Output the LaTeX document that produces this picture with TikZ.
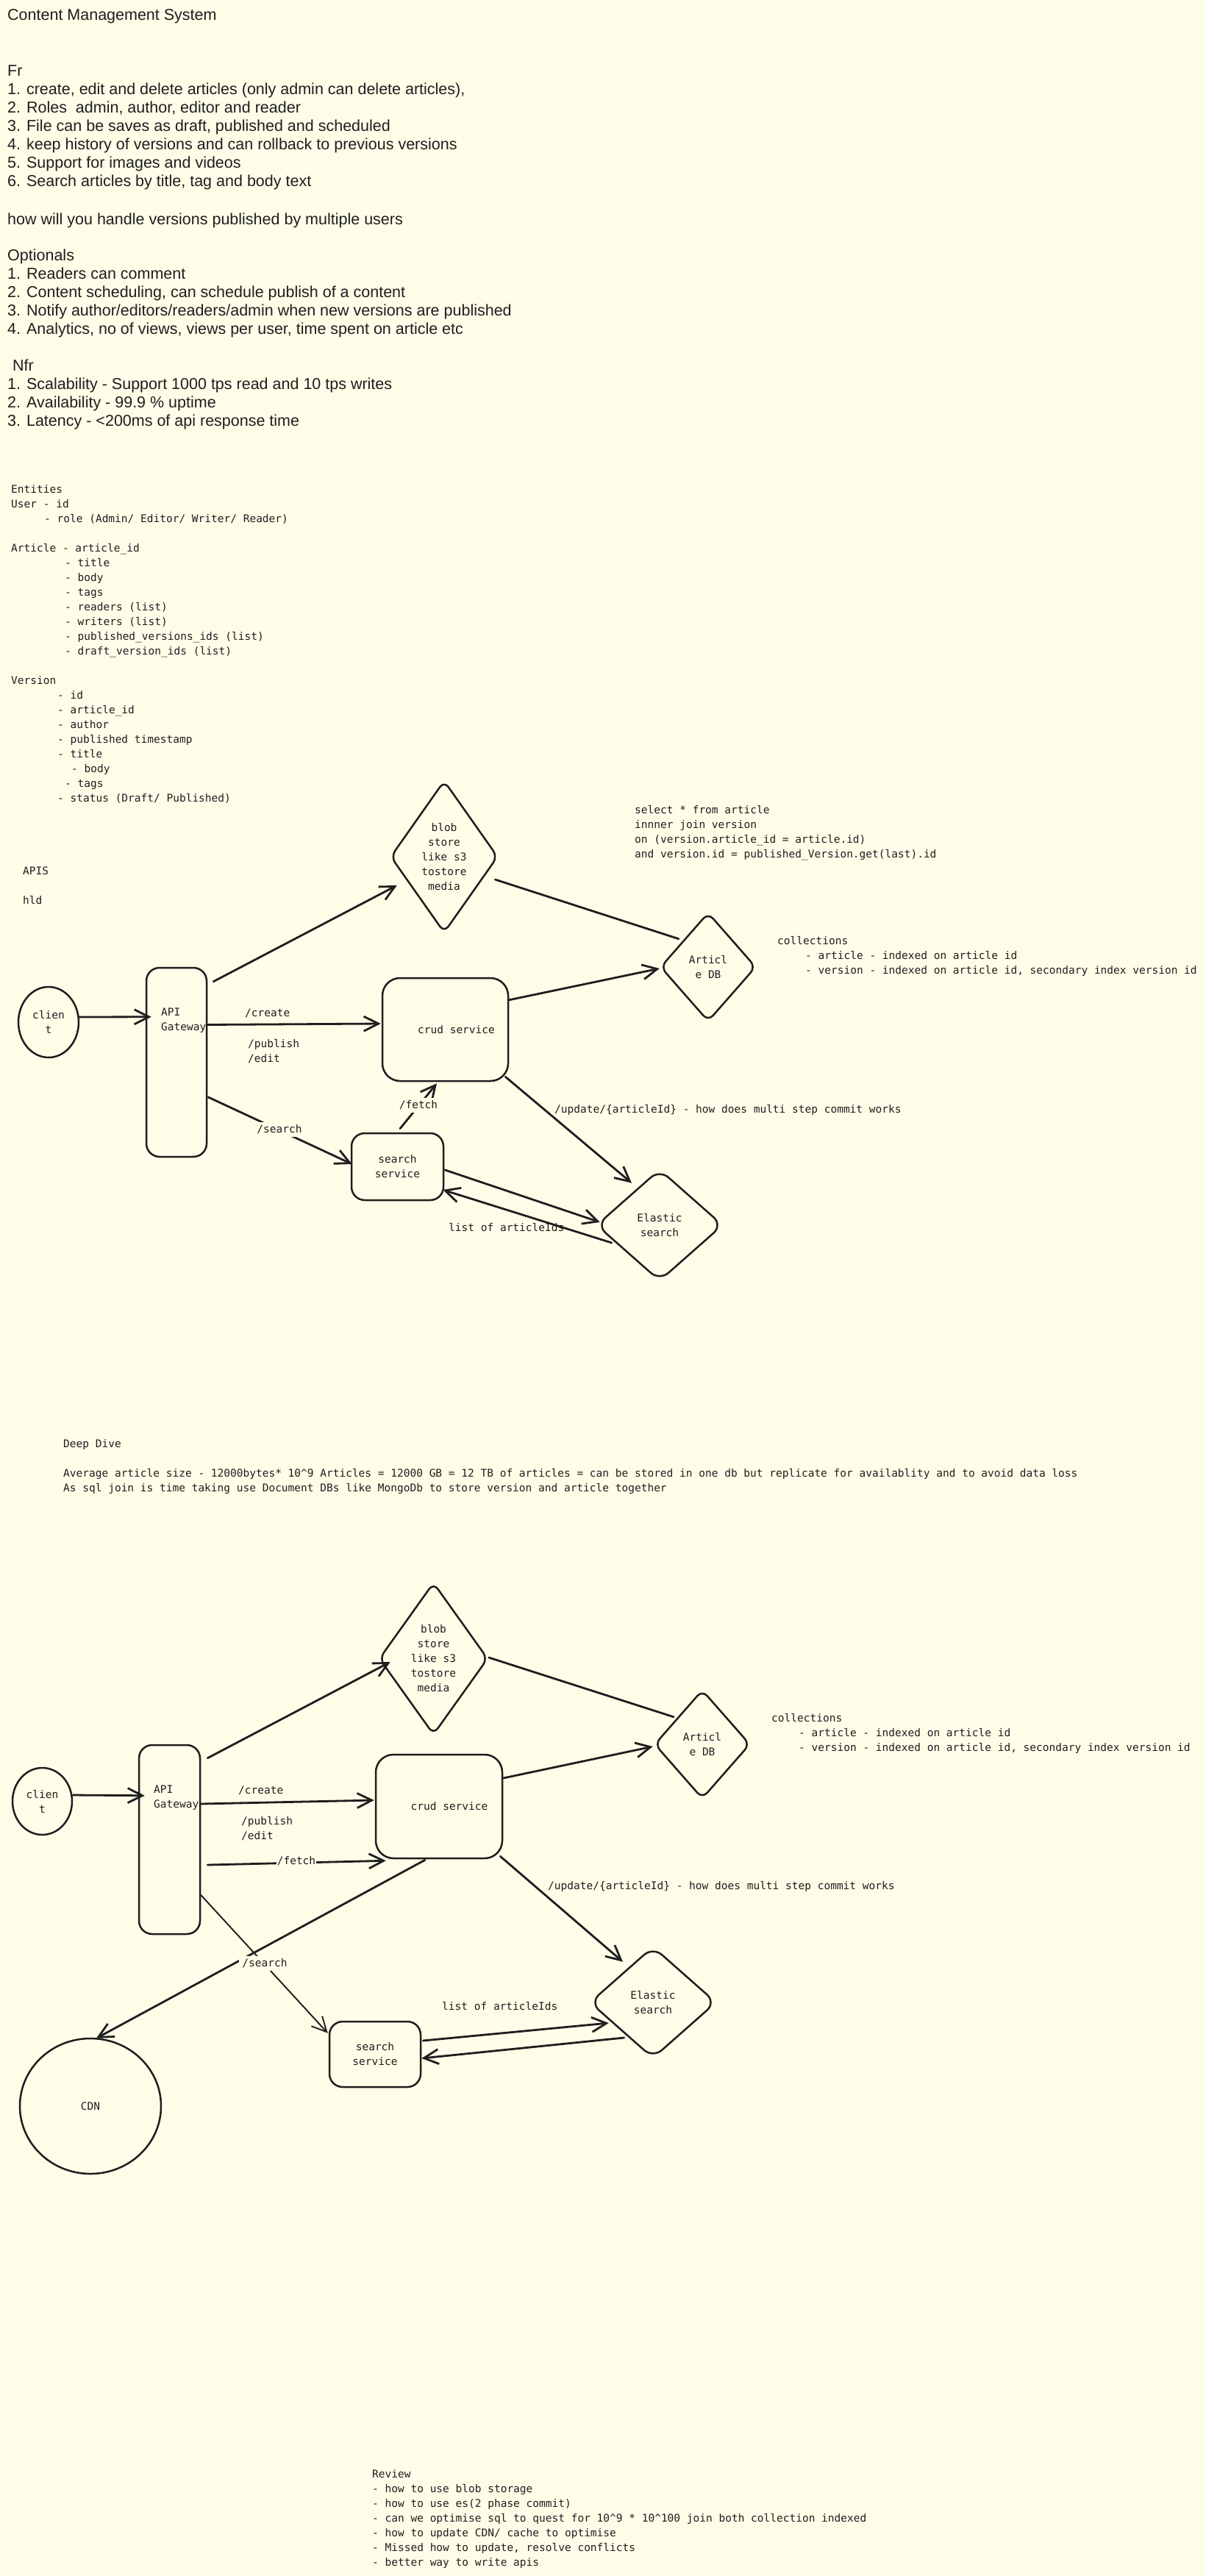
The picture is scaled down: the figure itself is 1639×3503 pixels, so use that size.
\documentclass[tikz,border=0pt]{standalone}
\usepackage{fontspec}
\setmainfont{Liberation Sans}
\newfontfamily\monof{DejaVu Sans Mono}
\usetikzlibrary{shapes.geometric,arrows.meta}
\definecolor{bg}{RGB}{255,253,232}
\definecolor{ink}{RGB}{30,30,30}
\newcommand{\txtl}[1]{\begin{tabular}[t]{@{}l@{}}#1\end{tabular}}
\tikzset{
  handtxt/.style={font=\fontsize{21.5}{25}\selectfont, text=ink, anchor=base west, inner sep=0pt},
  monotxt/.style={font=\monof\fontsize{14.5}{20}\selectfont, text=ink, anchor=base west, inner sep=0pt},
  monolbl/.style={font=\monof\fontsize{14.5}{20}\selectfont, text=ink, inner sep=0pt},
  shp/.style={draw=ink, line width=2.5pt, font=\monof\fontsize{14.5}{20}\selectfont, text=ink, align=center, inner sep=0pt},
  rbox/.style={shp, rectangle, rounded corners=18pt},
  dia/.style={shp, diamond, rounded corners=10pt},
  ell/.style={shp, ellipse},
  ln/.style={draw=ink, line width=2.8pt, line cap=round, line join=round},
  arr/.style={ln, -{Straight Barb[length=20pt,width=20pt]}},
  lblfill/.style={monolbl, fill=bg, inner sep=4pt}
}
\begin{document}
\begin{tikzpicture}[x=1pt,y=-1pt]
\useasboundingbox (0,0) rectangle (1639,3503);
\fill[bg] (0,0) rectangle (1639,3503);

% ---------- handwritten notes ----------
\node[handtxt] (title) at (10,28) {Content Management System};
\node[handtxt] (fr) at (10,104) {\txtl{Fr\\
1. create, edit and delete articles (only admin can delete articles),\\
2. Roles~ admin, author, editor and reader\\
3. File can be saves as draft, published and scheduled\\
4. keep history of versions and can rollback to previous versions\\
5. Support for images and videos\\
6. Search articles by title, tag and body text}};
\node[handtxt] (how) at (10,305) {how will you handle versions published by multiple users};
\node[handtxt] (opt) at (10,354) {\txtl{Optionals\\
1. Readers can comment\\
2. Content scheduling, can schedule publish of a content\\
3. Notify author/editors/readers/admin when new versions are published\\
4. Analytics, no of views, views per user, time spent on article etc}};
\node[handtxt] (nfr) at (10,504) {\txtl{\hspace*{7pt}Nfr\\
1. Scalability - Support 1000 tps read and 10 tps writes\\
2. Availability - 99.9 \% uptime\\
3. Latency - <200ms of api response time}};

% ---------- entities ----------
\node[monotxt] (ent) at (15,670) {\txtl{Entities\\
User - id\\
\hspace*{45pt}- role (Admin/ Editor/ Writer/ Reader)\\
\\
Article - article\_id\\
\hspace*{73pt}- title\\
\hspace*{73pt}- body\\
\hspace*{73pt}- tags\\
\hspace*{73pt}- readers (list)\\
\hspace*{73pt}- writers (list)\\
\hspace*{73pt}- published\_versions\_ids (list)\\
\hspace*{73pt}- draft\_version\_ids (list)\\
\\
Version\\
\hspace*{63pt}- id\\
\hspace*{63pt}- article\_id\\
\hspace*{63pt}- author\\
\hspace*{63pt}- published timestamp\\
\hspace*{63pt}- title\\
\hspace*{82pt}- body\\
\hspace*{73pt}- tags\\
\hspace*{63pt}- status (Draft/ Published)}};

\node[monotxt] (apis) at (31,1189) {\txtl{APIS\\ \\hld}};

\node[monotxt] (sql) at (863,1106) {\txtl{select * from article\\
innner join version\\
on (version.article\_id = article.id)\\
and version.id = published\_Version.get(last).id}};

\node[monotxt] (coll1) at (1057,1284) {\txtl{collections\\
\hspace*{38pt}- article - indexed on article id\\
\hspace*{38pt}- version - indexed on article id, secondary index version id}};

\node[monotxt] (upd1) at (754,1513) {/update/\{articleId\} - how does multi step commit works};

% ---------- diagram 1 ----------
\node[ell, minimum width=82pt, minimum height=96pt] (client1) at (66,1390) {clien\\t};
\node[rbox, minimum width=82pt, minimum height=257pt] (gw1) at (240,1444.5) {};
\node[monotxt] (gw1t) at (219,1381) {\txtl{API\\Gateway}};
\node[rbox, rounded corners=24pt, minimum width=171pt, minimum height=140pt,
      label={[monolbl, xshift=15pt]center:{crud service}}] (crud1) at (605.5,1400) {};
\node[rbox, minimum width=125pt, minimum height=91pt] (search1) at (540.5,1586.5) {search\\service};
\node[dia, minimum width=146pt, minimum height=207pt,
      label={[monolbl, align=center]center:{blob\\store\\like s3\\tostore\\media}}] (blob1) at (604,1165) {};
\node[dia, minimum width=130pt, minimum height=148pt] (db1) at (963,1315) {Articl\\e DB};
\node[dia, rounded corners=16pt, minimum width=172pt, minimum height=152pt] (es1) at (897,1666) {Elastic\\search};

\draw[arr] ([shift={(0,-7)}]client1.east) -- ([shift={(8,68)}]gw1.north west);
\draw[arr] ([shift={(8,20)}]gw1.north east) -- ([shift={(10,39)}]blob1.west);
\draw[arr] ([shift={(0,-51)}]gw1.east) -- ([shift={(-1,-8)}]crud1.west);
\draw[arr] ([shift={(1,47.5)}]gw1.east) -- ([shift={(2,-3.5)}]search1.west);
\draw[arr] ([shift={(3.5,-5)}]search1.north) -- ([shift={(-11.5,2)}]crud1.south);
\draw[ln] ([shift={(-5,31)}]blob1.east) -- ([shift={(-40,37)}]db1.north);
\draw[arr] ([shift={(-1,-40)}]crud1.east) -- ([shift={(0,2)}]db1.west);
\draw[arr] ([shift={(-5,-7)}]crud1.south east) -- ([shift={(-38,20)}]es1.north);
\draw[arr] ([shift={(1,4.5)}]search1.east) -- ([shift={(6,-4)}]es1.west);
\draw[arr] ([shift={(22,24)}]es1.west) -- ([shift={(-2,31.5)}]search1.east);

\node[monotxt] (create1) at (333,1382) {/create};
\node[monotxt] (pub1) at (337,1424) {\txtl{/publish\\/edit}};
\node[lblfill] (srch1) at (380,1536) {/search};
\node[lblfill] (fetch1) at (569,1503) {/fetch};
\node[monotxt] (list1) at (610,1674) {list of articleIds};

% ---------- deep dive ----------
\node[monotxt] (deep) at (86,1968) {\txtl{Deep Dive\\
\\
Average article size - 12000bytes* 10\textasciicircum 9 Articles = 12000 GB = 12 TB of articles = can be stored in one db but replicate for availablity and to avoid data loss\\
As sql join is time taking use Document DBs like MongoDb to store version and article together}};

% ---------- diagram 2 ----------
\node[ell, minimum width=81pt, minimum height=91pt] (client2) at (57.5,2449.5) {clien\\t};
\node[rbox, minimum width=83pt, minimum height=257pt] (gw2) at (230.5,2501.5) {};
\node[monotxt] (gw2t) at (209,2438) {\txtl{API\\Gateway}};
\node[rbox, rounded corners=24pt, minimum width=172pt, minimum height=141pt,
      label={[monolbl, xshift=14pt]center:{crud service}}] (crud2) at (597,2456.5) {};
\node[rbox, minimum width=124pt, minimum height=89pt] (search2) at (510,2793.5) {search\\service};
\node[dia, minimum width=148pt, minimum height=207pt,
      label={[monolbl, align=center]center:{blob\\store\\like s3\\tostore\\media}}] (blob2) at (589.5,2255.5) {};
\node[dia, minimum width=130pt, minimum height=148pt] (db2) at (955,2372) {Articl\\e DB};
\node[dia, rounded corners=16pt, minimum width=172pt, minimum height=152pt] (es2) at (888,2723) {Elastic\\search};
\node[ell, minimum width=192pt, minimum height=184pt] (cdn2) at (123,2864) {CDN};

\node[monotxt] (coll2) at (1049,2341) {\txtl{collections\\
\hspace*{37pt}- article - indexed on article id\\
\hspace*{37pt}- version - indexed on article id, secondary index version id}};
\node[monotxt] (upd2) at (745,2569) {/update/\{articleId\} - how does multi step commit works};

\draw[arr] ([shift={(0,-8.5)}]client2.east) -- ([shift={(9,70)}]gw2.north west);
\draw[arr] ([shift={(9,19)}]gw2.north east) -- ([shift={(16.5,4.5)}]blob2.west);
\draw[arr] ([shift={(0,-48.5)}]gw2.east) -- ([shift={(-1,-8.5)}]crud2.west);
\draw[arr] ([shift={(9,34.5)}]gw2.east) -- ([shift={(15,2)}]crud2.south west);
\draw[arr] ([shift={(-19,1)}]crud2.south) -- ([shift={(8,1)}]cdn2.north);
\draw[arr, line width=1.9pt] ([shift={(0,75.5)}]gw2.east) -- ([shift={(-1,17)}]search2.north west);
\draw[ln] ([shift={(0,-1.5)}]blob2.east) -- ([shift={(-39,38)}]db2.north);
\draw[arr] ([shift={(0,-38.5)}]crud2.east) -- ([shift={(-1,3)}]db2.west);
\draw[arr] ([shift={(-4,-4)}]crud2.south east) -- ([shift={(-41,22)}]es2.north);
\draw[arr] ([shift={(2,-18.5)}]search2.east) -- ([shift={(27,28)}]es2.west);
\draw[arr] ([shift={(48,48)}]es2.west) -- ([shift={(0,5.5)}]search2.east);

\node[monotxt] (create2) at (324,2439) {/create};
\node[monotxt] (pub2) at (328,2481) {\txtl{/publish\\/edit}};
\node[lblfill, inner sep=1pt] (fetch2) at (403,2531) {/fetch};
\node[lblfill] (srch2) at (360,2670) {/search};
\node[monotxt] (list2) at (601,2733) {list of articleIds};

% ---------- review ----------
\node[monotxt] (review) at (506,3369) {\txtl{Review\\
- how to use blob storage\\
- how to use es(2 phase commit)\\
- can we optimise sql to quest for 10\textasciicircum 9 * 10\textasciicircum 100 join both collection indexed\\
- how to update CDN/ cache to optimise\\
- Missed how to update, resolve conflicts\\
- better way to write apis}};
\end{tikzpicture}
\end{document}
